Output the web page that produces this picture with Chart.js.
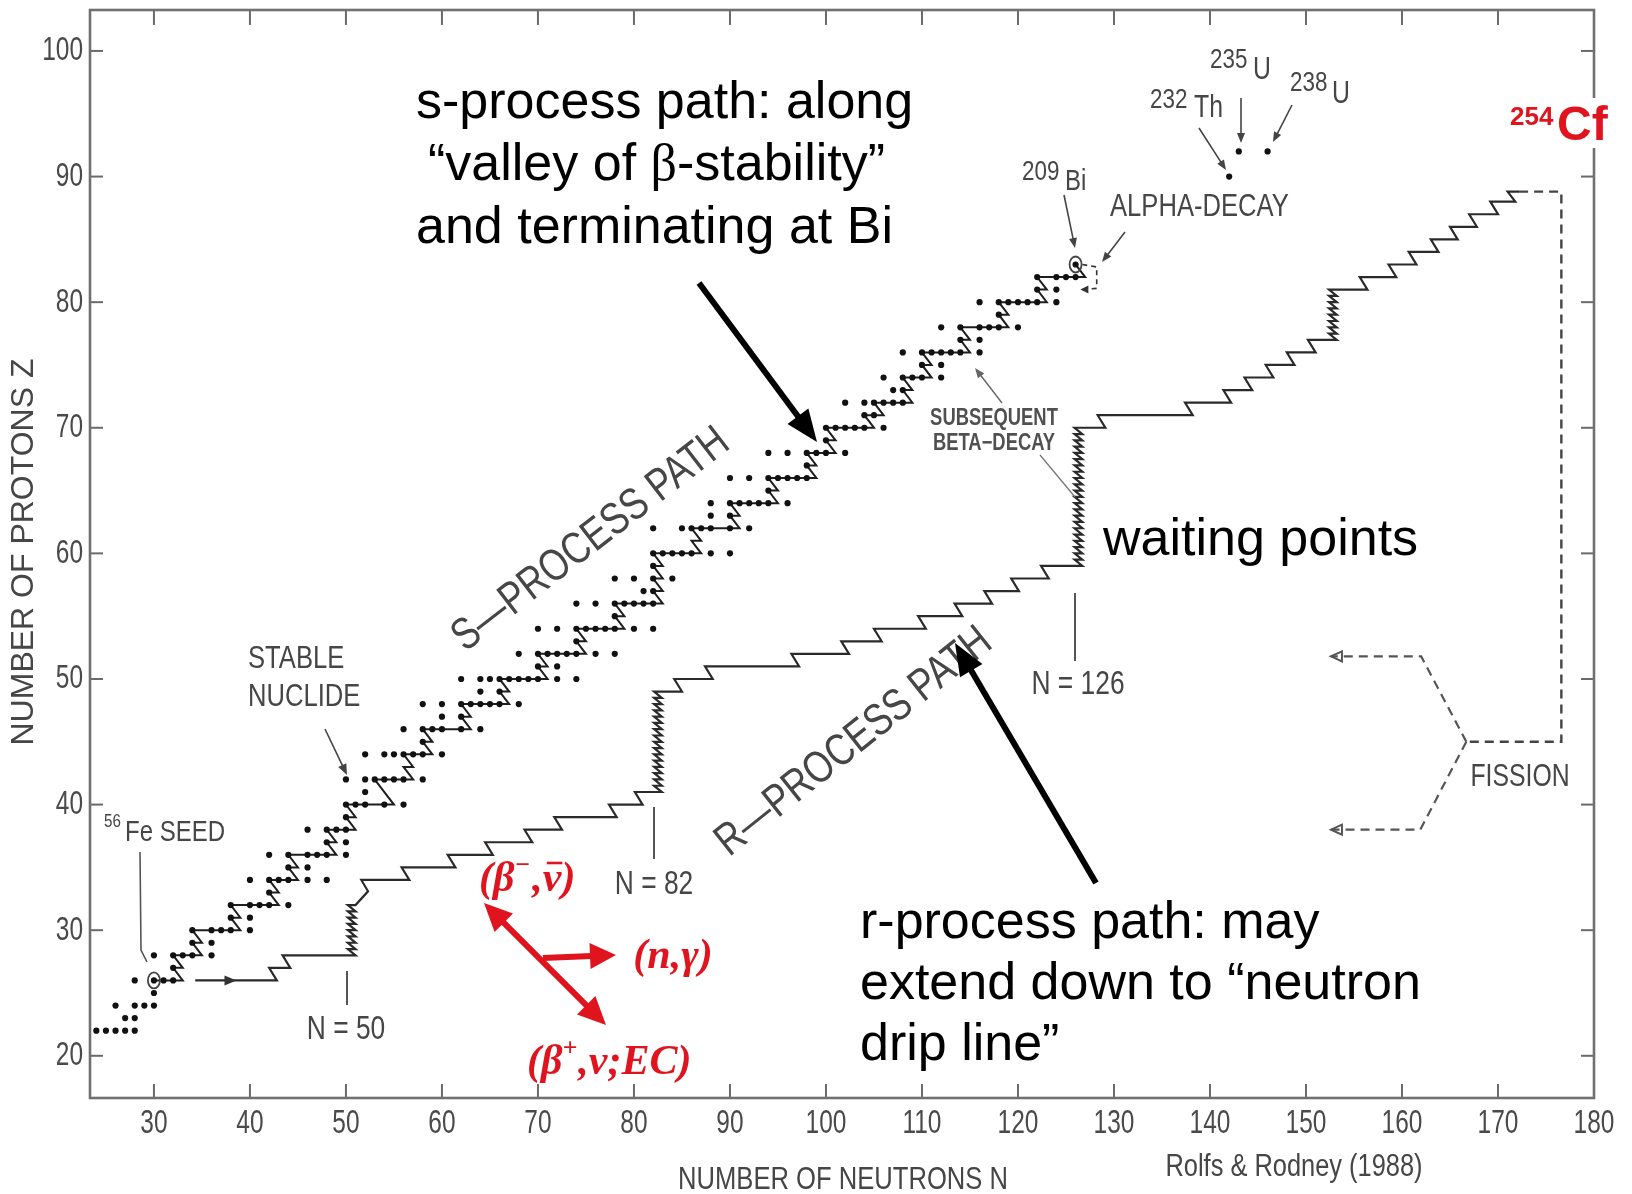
<!DOCTYPE html>
<html><head><meta charset="utf-8">
<script src="https://cdn.jsdelivr.net/npm/chart.js@4.4.0/dist/chart.umd.min.js"></script>
<style>html,body{margin:0;padding:0;background:#fff;}canvas{display:block;}</style>
</head><body>
<canvas id="c" width="1632" height="1194"></canvas>
<script>
// ---------------- DATA ----------------
const xTicks = [30,40,50,60,70,80,90,100,110,120,130,140,150,160,170,180];
const yTicks = [20,30,40,50,60,70,80,90,100];

// stable nuclides: proton number Z and the neutron numbers N of its stable isotopes
const elementZ = [22,23,24,25,26,27,28,29,30,31,32,33,34,35,36,37,38,39,40,41,42,44,45,46,47,48,49,50,51,52,53,54,55,56,57,58,59,60,62,63,64,65,66,67,68,69,70,71,72,73,74,75,76,77,78,79,80,81,82,83];
const stableIsotopeN = [
 [24,25,26,27,28],[27,28],[26,28,29,30],[30],[28,30,31,32],[32],[30,32,33,34,36],[34,36],
 [34,36,37,38,40],[38,40],[38,40,41,42,44],[42],[40,42,43,44,46,48],[44,46],[42,44,46,47,48,50],
 [48,50],[46,48,49,50],[50],[50,51,52,54,56],[52],[50,52,53,54,55,56,58],[52,54,55,56,57,58,60],
 [58],[56,58,59,60,62,64],[60,62],[58,60,62,63,64,65,66,68],[64,66],[62,64,65,66,67,68,69,70,72,74],
 [70,72],[68,70,71,72,73,74,76,78],[74],[70,72,74,75,76,77,78,80,82],[78],[74,76,78,79,80,81,82],
 [81,82],[78,80,82,84],[82],[82,83,84,85,86,88,90],[82,85,86,87,88,90,92],[88,90],
 [88,90,91,92,93,94,96],[94],[90,92,94,95,96,97,98],[98],[94,96,98,99,100,102],[100],
 [98,100,101,102,103,104,106],[104,105],[102,104,105,106,107,108],[107,108],[106,108,109,110,112],
 [110,112],[108,110,111,112,113,114,116],[114,116],[112,114,116,117,118,120],[118],
 [116,118,119,120,121,122,124],[122,124],[122,124,125,126],[126]
];
// long-lived actinides (232Th, 235U, 238U)
const actinideN = [142,143,146];
const actinideZ = [90,92,92];

// s-process path (N,Z) vertices: neutron captures and beta decays
const sPath = [[30,26],[33,26],[32,27],[33,27],[32,28],[35,28],[34,29],[35,29],[34,30],[39,30],[38,31],[39,31],[38,32],[43,32],[42,33],[43,33],[42,34],[45,34],[44,35],[45,35],[44,36],[49,36],[48,37],[49,37],[48,38],[51,38],[50,39],[51,39],[50,40],[55,40],[54,41],[53,42],[57,42],[56,43],[57,43],[56,44],[59,44],[58,45],[59,45],[58,46],[63,46],[62,47],[63,47],[62,48],[67,48],[66,49],[67,49],[66,50],[71,50],[70,51],[71,51],[70,52],[75,52],[74,53],[75,53],[74,54],[79,54],[78,55],[79,55],[78,56],[83,56],[82,57],[83,57],[82,58],[83,58],[82,59],[83,59],[82,60],[87,60],[86,61],[87,61],[86,62],[91,62],[90,63],[91,63],[90,64],[95,64],[94,65],[95,65],[94,66],[99,66],[98,67],[99,67],[98,68],[101,68],[100,69],[101,69],[100,70],[105,70],[104,71],[106,71],[105,72],[109,72],[108,73],[109,73],[108,74],[111,74],[110,75],[111,75],[110,76],[115,76],[114,77],[115,77],[114,78],[119,78],[118,79],[119,79],[118,80],[123,80],[122,81],[123,81],[122,82],[127,82],[126,83]];

// alpha-decay loop at Bi (dashed)
const alphaLoop = [[126.7,83.0],[128.2,82.8],[128.2,81.1],[126.5,81.0]];

// r-process path (N,Z) vertices
const rPath = [[34.3,26],[42.8,26],[42.0,27],[44.2,27],[43.4,28],[51.0,28],
 [50.2,28.5],[51.0,28.5],[50.2,29],[51.0,29],[50.2,29.5],[51.0,29.5],[50.2,30],[51.0,30],[50.2,30.5],[51.0,30.5],[50.2,31],[51.0,31],[50.2,31.5],[51.0,31.5],[50.2,32],[51.0,32],
 [52.3,33.1],[51.6,34],[56.6,34],[55.8,35],[61.4,35],[60.6,36],[65.3,36],[64.5,37],[69.4,37],[68.6,38],[72.5,38],[71.7,39],[78.2,39],[77.4,40],[80.9,40],[80.1,41],[82.9,41],
 [82.1,41.5],[82.9,41.5],[82.1,42],[82.9,42],[82.1,42.5],[82.9,42.5],[82.1,43],[82.9,43],[82.1,43.5],[82.9,43.5],[82.1,44],[82.9,44],[82.1,44.5],[82.9,44.5],[82.1,45],[82.9,45],[82.1,45.5],[82.9,45.5],[82.1,46],[82.9,46],[82.1,46.5],[82.9,46.5],[82.1,47],[82.9,47],[82.1,47.5],[82.9,47.5],[82.1,48],[82.9,48],[82.1,48.5],[82.9,48.5],[82.1,49],[82.9,49],
 [85.0,49],[84.2,50],[88.2,50],[87.4,51],[97.2,51],[96.4,52],[102.4,52],[101.6,53],[105.8,53],[105.0,54],[110.4,54],[109.6,55],[114.2,55],[113.4,56],[117.3,56],[116.5,57],[120.1,57],[119.3,58],[123.2,58],[122.4,59],[126.7,59],
 [125.9,59.5],[126.7,59.5],[125.9,60],[126.7,60],[125.9,60.5],[126.7,60.5],[125.9,61],[126.7,61],[125.9,61.5],[126.7,61.5],[125.9,62],[126.7,62],[125.9,62.5],[126.7,62.5],[125.9,63],[126.7,63],[125.9,63.5],[126.7,63.5],[125.9,64],[126.7,64],[125.9,64.5],[126.7,64.5],[125.9,65],[126.7,65],[125.9,65.5],[126.7,65.5],[125.9,66],[126.7,66],[125.9,66.5],[126.7,66.5],[125.9,67],[126.7,67],[125.9,67.5],[126.7,67.5],[125.9,68],[126.7,68],[125.9,68.5],[126.7,68.5],[125.9,69],[126.7,69],[125.9,69.5],[126.7,69.5],[125.9,70],[126.7,70],
 [129.1,70],[128.3,71],[138.2,71],[137.4,72],[142.2,72],[141.4,73],[144.4,73],[143.6,74],[146.6,74],[145.8,75],[148.8,75],[148.0,76],[151.0,76],[150.2,77],[153.2,77],
 [152.4,77.5],[153.2,77.5],[152.4,78],[153.2,78],[152.4,78.5],[153.2,78.5],[152.4,79],[153.2,79],[152.4,79.5],[153.2,79.5],[152.4,80],[153.2,80],[152.4,80.5],[153.2,80.5],[152.4,81],[153.2,81],
 [156.4,81],[155.6,82],[159.4,82],[158.6,83],[161.5,83],[160.7,84],[163.8,84],[163.0,85],[165.8,85],[165.0,86],[167.8,86],[167.0,87],[170.0,87],[169.2,88],[171.8,88],[171.0,88.8],[172.2,88.8]];

// fission (dashed)
const fissionTrunk = [[172.2,88.8],[176.6,88.8],[176.6,45],[166.7,45]];
const fissionUpper = [[166.7,45],[162.0,51.8],[152.6,51.8]];
const fissionLower = [[166.7,45],[161.9,38],[152.6,38]];

// ---------------- helpers ----------------
const SANS = '"Liberation Sans",Arial,sans-serif';
const SERIF = '"Liberation Serif","Times New Roman",serif';
const GRAY = '#464646';
const RED = '#e0141e';

const toXY = arr => arr.map(p => ({x:p[0], y:p[1]}));
const stablePts = [];
elementZ.forEach((z,i) => stableIsotopeN[i].forEach(n => stablePts.push({x:n, y:z})));
const actinidePts = actinideN.map((n,i) => ({x:n, y:actinideZ[i]}));

function lineDS(data, color, width, dash){
  return {data:toXY(data), showLine:true, pointRadius:0, borderColor:color, borderWidth:width,
          borderDash:dash||[], fill:false, tension:0, borderJoinStyle:'miter', borderCapStyle:'butt'};
}
function T(ctx, s, x, y, font, color, align, base){
  ctx.font = font; ctx.fillStyle = color; ctx.textAlign = align||'left'; ctx.textBaseline = base||'middle';
  ctx.fillText(s, x, y); return ctx.measureText(s).width;
}
// condensed text (the original figure is vertically stretched)
function TC(ctx, s, x, y, size, color, align, weight, sx){
  sx = sx || 0.8;
  ctx.save(); ctx.font = `${weight||''} ${size}px ${SANS}`; ctx.fillStyle = color; ctx.textBaseline = 'middle'; ctx.textAlign = 'left';
  const w = ctx.measureText(s).width * sx;
  const x0 = align === 'center' ? x - w/2 : align === 'right' ? x - w : x;
  ctx.translate(x0, y); ctx.scale(sx, 1); ctx.fillText(s, 0, 0); ctx.restore();
  return w;
}
function seg(ctx, x1,y1,x2,y2){ ctx.beginPath(); ctx.moveTo(x1,y1); ctx.lineTo(x2,y2); ctx.stroke(); }
function head(ctx, x, y, ang, hl, hw){
  ctx.beginPath(); ctx.moveTo(x,y);
  ctx.lineTo(x - hl*Math.cos(ang) + hw*Math.sin(ang), y - hl*Math.sin(ang) - hw*Math.cos(ang));
  ctx.lineTo(x - hl*Math.cos(ang) - hw*Math.sin(ang), y - hl*Math.sin(ang) + hw*Math.cos(ang));
  ctx.closePath(); ctx.fill();
}
function arrow(ctx, x1,y1,x2,y2, lw, hl, hw, color, both){
  ctx.strokeStyle = color; ctx.fillStyle = color; ctx.lineWidth = lw; ctx.lineCap='butt';
  const a = Math.atan2(y2-y1, x2-x1);
  let sx=x1, sy=y1;
  if (both){ sx = x1 + Math.cos(a)*hl*0.7; sy = y1 + Math.sin(a)*hl*0.7; head(ctx, x1, y1, a+Math.PI, hl, hw); }
  seg(ctx, sx, sy, x2 - Math.cos(a)*hl*0.7, y2 - Math.sin(a)*hl*0.7);
  head(ctx, x2, y2, a, hl, hw);
}
function openHead(ctx, x, y, len, hw){
  ctx.beginPath(); ctx.moveTo(x+len, y-hw); ctx.lineTo(x, y); ctx.lineTo(x+len, y+hw); ctx.closePath(); ctx.stroke();
}

const decor = {
  id:'decor',
  beforeDatasetsDraw(chart){
    const {ctx, chartArea:a, scales:{x, y}} = chart;
    ctx.save();
    ctx.strokeStyle = '#6a6a6a'; ctx.lineWidth = 2;
    x.ticks.forEach(t => { const p = x.getPixelForValue(t.value);
      TC(ctx, String(t.value), p, 1124, 34, '#4a4a4a', 'center', '', 0.72);
      if (p > a.right - 3) return;
      seg(ctx, p, a.bottom, p, a.bottom - 14); seg(ctx, p, a.top, p, a.top + 15); });
    y.ticks.forEach(t => { const p = y.getPixelForValue(t.value);
      TC(ctx, String(t.value), 83, p, 34, '#4a4a4a', 'right', '', 0.72);
      seg(ctx, a.left, p, a.left + 13, p); seg(ctx, a.right, p, a.right - 13, p); });
    ctx.lineWidth = 2.6; ctx.strokeStyle = '#707070';
    ctx.strokeRect(a.left, a.top, a.right - a.left, a.bottom - a.top);
    ctx.restore();
  },
  afterDatasetsDraw(chart){
    const {ctx, scales:{x, y}} = chart;
    const X = v => x.getPixelForValue(v), Y = v => y.getPixelForValue(v);
    ctx.save();
    // circled nuclides (56Fe seed, 209Bi)
    ctx.strokeStyle = '#444'; ctx.lineWidth = 1.8;
    [[30,26],[126,83]].forEach(p => { ctx.beginPath(); ctx.ellipse(X(p[0]), Y(p[1]), 6, 8, 0, 0, 2*Math.PI); ctx.stroke(); });
    // arrow heads on seed line, alpha loop, fission
    ctx.fillStyle = '#333'; head(ctx, X(38.6), Y(26), 0, 12, 5);
    head(ctx, X(126.5), Y(81.0), Math.PI, 8, 4);
    ctx.strokeStyle = '#555'; ctx.lineWidth = 2;
    openHead(ctx, X(152.6), Y(51.8), 11, 5); openHead(ctx, X(152.6), Y(38), 11, 5);

    // axis titles & credit
    TC(ctx, 'NUMBER OF NEUTRONS N', 843, 1180, 32, GRAY, 'center');
    TC(ctx, 'Rolfs & Rodney (1988)', 1294, 1167, 31, GRAY, 'center', '', 0.82);
    ctx.save(); ctx.translate(24, 552); ctx.rotate(-Math.PI/2);
    T(ctx, 'NUMBER OF PROTONS Z', 0, 0, `32px ${SANS}`, GRAY, 'center'); ctx.restore();

    // rotated path names
    ctx.save(); ctx.translate(591, 540); ctx.rotate(-37.6*Math.PI/180);
    TC(ctx, 'S—PROCESS PATH', 0, 0, 45, GRAY, 'center'); ctx.restore();
    ctx.save(); ctx.translate(854, 742); ctx.rotate(-38.5*Math.PI/180);
    TC(ctx, 'R—PROCESS PATH', 0, 0, 45, GRAY, 'center'); ctx.restore();

    // gray labels
    TC(ctx, 'STABLE', 248, 659, 32, GRAY); TC(ctx, 'NUCLIDE', 248, 697, 32, GRAY);
    arrow(ctx, 325, 729, 347, 775, 1.6, 11, 4.5, '#444');
    TC(ctx, '56', 104, 822, 19, GRAY); TC(ctx, 'Fe SEED', 125, 833, 30, GRAY);
    ctx.strokeStyle = '#555'; ctx.lineWidth = 1.6; ctx.beginPath(); ctx.moveTo(140, 852); ctx.lineTo(141, 950); ctx.lineTo(147, 962); ctx.stroke();
    TC(ctx, 'N = 50', 346, 1030, 33, GRAY, 'center'); ctx.strokeStyle = '#555'; ctx.lineWidth = 2; seg(ctx, 347, 971, 347, 1005);
    TC(ctx, 'N = 82', 654, 885, 33, GRAY, 'center'); seg(ctx, 654, 807, 654, 859);
    TC(ctx, 'N = 126', 1078, 685, 33, GRAY, 'center'); seg(ctx, 1075, 593, 1075, 661);
    TC(ctx, 'SUBSEQUENT', 994, 419, 23, '#505050', 'center', 'bold');
    TC(ctx, 'BETA−DECAY', 994, 444, 23, '#505050', 'center', 'bold');
    arrow(ctx, 1002, 403, 975, 368, 1.4, 10, 4, '#666');
    ctx.strokeStyle = '#777'; ctx.lineWidth = 1.3; seg(ctx, 1040, 455, 1075, 497);
    TC(ctx, '209', 1022, 172, 28, GRAY); TC(ctx, 'Bi', 1065, 182, 30, GRAY);
    arrow(ctx, 1064, 195, 1075, 248, 1.6, 10, 4, '#444');
    TC(ctx, 'ALPHA-DECAY', 1110, 207, 32, GRAY);
    arrow(ctx, 1125, 232, 1102, 262, 1.6, 10, 4, '#444');
    TC(ctx, '232', 1150, 100, 28, GRAY); TC(ctx, 'Th', 1194, 108, 31, GRAY);
    arrow(ctx, 1199, 128, 1226, 170, 1.6, 10, 4, '#444');
    TC(ctx, '235', 1210, 60, 28, GRAY); TC(ctx, 'U', 1253, 70, 31, GRAY);
    arrow(ctx, 1241, 98, 1241, 143, 1.6, 10, 4, '#444');
    TC(ctx, '238', 1290, 83, 28, GRAY); TC(ctx, 'U', 1332, 94, 31, GRAY);
    arrow(ctx, 1292, 105, 1273, 142, 1.6, 10, 4, '#444');
    TC(ctx, 'FISSION', 1520, 777, 31, GRAY, 'center');

    // 254Cf (red) with white backing over the frame
    ctx.fillStyle = '#fff'; ctx.fillRect(1506, 98, 126, 50);
    T(ctx, '254', 1510, 118, `bold 26px ${SANS}`, RED);
    T(ctx, 'Cf', 1557, 127, `bold 48px ${SANS}`, RED);

    // big black explanatory texts
    const big = `52px ${SANS}`;
    T(ctx, 's-process path: along', 416, 104, big, '#000');
    let w = T(ctx, '“valley of ', 428, 166, big, '#000');
    w += T(ctx, 'β', 428 + w, 166, `52px ${SERIF}`, '#000');
    T(ctx, '-stability”', 428 + w, 166, big, '#000');
    T(ctx, 'and terminating at Bi', 416, 229, big, '#000');
    T(ctx, 'waiting points', 1103, 541, big, '#000');
    T(ctx, 'r-process path: may', 860, 924, big, '#000');
    T(ctx, 'extend down to “neutron', 860, 985, big, '#000');
    T(ctx, 'drip line”', 860, 1046, big, '#000');
    arrow(ctx, 699, 283, 817, 442, 6, 32, 13, '#000');
    arrow(ctx, 1096, 883, 955, 643, 6, 32, 13, '#000');

    // red reaction arrows and labels
    arrow(ctx, 484, 903, 606, 1025, 6, 28, 13, RED, true);
    arrow(ctx, 543, 958, 616, 955, 6, 26, 13, RED);
    const rf = `italic bold 42px ${SERIF}`, rs = `italic bold 26px ${SERIF}`;
    let px = 479;
    px += T(ctx, '(β', px, 880, rf, RED);
    px += T(ctx, '−', px, 866, rs, RED) + 2;
    px += T(ctx, ',', px, 880, rf, RED);
    const nw = T(ctx, 'ν', px, 880, rf, RED);
    ctx.strokeStyle = RED; ctx.lineWidth = 2.6; seg(ctx, px + 4, 863, px + nw + 1, 863);
    px += nw; T(ctx, ')', px, 880, rf, RED);
    T(ctx, '(n,γ)', 673, 957, rf, RED, 'center');
    px = 527;
    px += T(ctx, '(β', px, 1063, rf, RED);
    px += T(ctx, '+', px, 1049, rs, RED) + 1;
    T(ctx, ',ν;EC)', px, 1063, rf, RED);
    ctx.restore();
  }
};

new Chart(document.getElementById('c'), {
  type:'scatter',
  data:{ datasets:[
    {data:stablePts, pointRadius:3.1, pointBackgroundColor:'#111', pointBorderWidth:0, showLine:false},
    {data:actinidePts, pointRadius:3.1, pointBackgroundColor:'#111', pointBorderWidth:0, showLine:false},
    lineDS(sPath, '#1e1e1e', 2.0),
    lineDS(alphaLoop, '#333', 1.6, [5,4]),
    lineDS(rPath, '#2a2a2a', 2.2),
    lineDS(fissionTrunk, '#444', 2.4, [9,6]),
    lineDS(fissionUpper, '#555', 2.2, [9,6]),
    lineDS(fissionLower, '#555', 2.2, [9,6])
  ]},
  options:{
    responsive:false, animation:false, devicePixelRatio:1,
    layout:{padding:{left:0, right:38, top:10, bottom:0}},
    plugins:{legend:{display:false}, tooltip:{enabled:false}},
    scales:{
      x:{type:'linear', min:23.34, max:180,
         afterFit(s){ s.height = 96; },
         afterBuildTicks(s){ s.ticks = xTicks.map(v => ({value:v})); },
         grid:{display:false, drawTicks:false}, border:{display:false},
         ticks:{display:false}},
      y:{type:'linear', min:16.64, max:103.26,
         afterFit(s){ s.width = 90; },
         afterBuildTicks(s){ s.ticks = yTicks.map(v => ({value:v})); },
         grid:{display:false, drawTicks:false}, border:{display:false},
         ticks:{display:false}}
    }
  },
  plugins:[decor]
});
</script>
</body></html>
